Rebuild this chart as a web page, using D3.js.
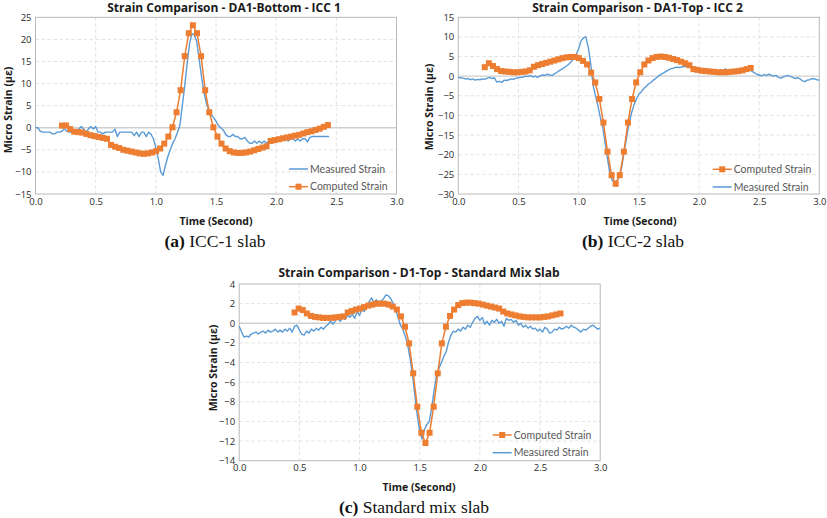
<!DOCTYPE html>
<html>
<head>
<meta charset="utf-8">
<script src="https://cdn.jsdelivr.net/npm/d3@7"></script>
<style>
  body { margin: 0; background: #fff; }
  svg { display: block; }
  .tick-label { font-family: "Open Sans", Lato, sans-serif; font-size: 9.5px; fill: #2a2a2a; }
  .chart-title { font-family: "Open Sans", Lato, sans-serif; font-size: 12px; font-weight: bold; fill: #1a1a1a; }
  .axis-title { font-family: "Open Sans", Lato, sans-serif; font-size: 10.5px; font-weight: bold; fill: #1a1a1a; }
  .legend-text { font-family: Lato, "Open Sans", sans-serif; font-size: 10.5px; fill: #595959; }
  .caption { font-family: "Liberation Serif", "DejaVu Serif", serif; font-size: 17.5px; fill: #111; }
</style>
</head>
<body>
<div id="chart"></div>
<script>
const WIDTH = 827;
const HEIGHT = 518;

const BLUE = '#5b9bd5';
const ORANGE = '#ed7d31';

// measured signals are sampled every 0.02 s from t = 0
const MEASURED_DT = 0.02;
// computed response is sampled every 0.034 s from a panel specific start
const COMPUTED_DT = 0.034;

const timeTicks = [0, 0.5, 1.0, 1.5, 2.0, 2.5, 3.0];

// ---- (a) ICC-1 slab, DA1-Bottom ----
const icc1Ticks = [-15, -10, -5, 0, 5, 10, 15, 20, 25];
const icc1ComputedStart = 0.22;
const icc1Measured = [
  0, 0, -0.8, -1, -1, -1, -1, -1.4, -1.4, -1,
  -1, -0.8, -0.2, -0.8, -1, -1, -1, -1, -0.3, 0.3,
  -0.3, -1, -0.3, 0.3, -0.3, 0.3, -1, -1, -1.4, -1,
  -1, -1, -1, -0.3, -2, -1, -1, -1, -1, -1,
  -1, -1.8, -1, -2, -1, -1, -2, -1, -1.5, -2.5,
  -4.5, -7, -10, -10.8, -8.5, -6.5, -5, -3.5, -2.5, -1,
  0.5, 5, 9.5, 14.5, 19, 21.3, 21, 19.5, 15.5, 11.5,
  8, 5.5, 4, 3, 2.3, 1.5, 0.5, 0, -0.5, -1.5,
  -2, -2, -1.5, -2, -2, -2.5, -2.5, -2.2, -3, -3.5,
  -3.5, -3, -3.5, -3, -3.5, -3, -3.5, -3, -2.5, -2.8,
  -2.5, -2.5, -3, -2.5, -2.5, -3, -2.5, -2.5, -3, -2.5,
  -3, -2.5, -2.5, -3.2, -2.2, -2, -2, -2, -2, -2,
  -2, -2, -2
];
const icc1Computed = [
  0.5, 0.5, -0.3, -0.9, -1.0, -1.1, -1.4, -1.7, -1.9, -2.1,
  -2.3, -2.5, -3.9, -4.3, -4.6, -5.0, -5.2, -5.4, -5.6, -5.8,
  -5.9, -5.8, -5.6, -5.3, -4.7, -3.6, -2.0, 0.1, 3.5, 8.5,
  16.2, 21.4, 23.2, 21.4, 16.2, 8.5, 3.5, 0.1, -2.0, -3.6,
  -4.7, -5.3, -5.6, -5.7, -5.7, -5.6, -5.4, -5.1, -4.8, -4.5,
  -4.2, -3.0, -2.8, -2.6, -2.4, -2.2, -2.0, -1.8, -1.6, -1.3,
  -1.0, -0.8, -0.5, -0.2, 0.2, 0.6
];

// ---- (b) ICC-2 slab, DA1-Top ----
const icc2Ticks = [-30, -25, -20, -15, -10, -5, 0, 5, 10, 15];
const icc2ComputedStart = 0.22;
const icc2Measured = [
  -0.3, -0.4, -0.5, -0.7, -0.6, -0.9, -0.7, -1.0, -0.8, -0.9,
  -0.7, -0.8, -0.5, -0.3, -0.6, -0.4, -1.5, -1.3, -1.6, -1.0,
  -1.1, -0.9, -0.7, -0.8, -0.5, -0.4, -0.3, -0.2, 0.0, -0.1,
  0.2, -0.2, 0.0, -0.3, 0.1, 0.3, 0.2, 0.5, 0.3, 0.2,
  0.6, 1.0, 1.4, 1.8, 2.2, 2.6, 3.1, 3.8, 4.5, 5.5,
  7.0, 9.0, 9.8, 10.0, 7.4, 3.3, -2.3, -5.0, -7.5, -10.5,
  -12.9, -17.0, -21.0, -24.8, -26.6, -27.0, -26.6, -25.5, -22.8, -19.0,
  -15.3, -11.8, -9.3, -7.3, -5.8, -4.6, -4.0, -3.2, -2.6, -2.0,
  -1.6, -1.0, -0.6, 0.0, 0.4, 0.7, 1.1, 1.5, 1.8, 2.0,
  2.2, 2.3, 2.2, 2.4, 2.5, 2.4, 2.6, 2.5, 2.3, 2.2,
  2.0, 1.8, 1.9, 1.6, 1.5, 1.7, 1.3, 1.5, 1.2, 1.6,
  1.3, 1.9, 1.4, 1.2, 1.6, 1.3, 1.5, 1.1, 1.7, 1.4,
  1.6, 1.9, 1.2, 0.9, 0.5, 0.3, 0.1, 0.4, 0.2, 0.5,
  0.3, 0.0, 0.2, -0.3, -0.5, -0.2, 0.0, 0.2, -0.1, -0.3,
  -0.6, -0.4, -0.7, -1.2, -1.4, -1.0, -0.9, -0.6, -0.7, -0.9,
  -1.0
];
const icc2Computed = [
  2.3, 3.3, 2.6, 1.8, 1.3, 1.2, 1.1, 1.0, 1.0, 1.1,
  1.2, 1.5, 2.4, 2.8, 3.1, 3.4, 3.7, 4.0, 4.3, 4.6,
  4.8, 4.9, 4.9, 4.6, 3.9, 3.0, 0.9, -1.6, -5.8, -11.8,
  -19.2, -25.2, -27.4, -25.2, -19.2, -11.8, -5.8, -1.6, 1.0, 3.0,
  4.0, 4.6, 4.9, 5.0, 4.9, 4.7, 4.4, 4.1, 3.7, 3.3,
  2.8, 1.8, 1.6, 1.4, 1.3, 1.2, 1.1, 1.0, 1.0, 1.0,
  1.1, 1.2, 1.3, 1.5, 1.8, 2.1
];

// ---- (c) Standard mix slab, D1-Top ----
const stdTicks = [-14, -12, -10, -8, -6, -4, -2, 0, 2, 4];
const stdComputedStart = 0.46;
const stdMeasured = [
  -0.3, -0.9, -1.4, -1.3, -1.4, -1.1, -1.0, -0.9, -1.1, -0.9,
  -0.8, -1.0, -0.7, -0.9, -0.8, -0.6, -0.9, -0.7, -0.9, -0.6,
  -0.8, -0.5, -0.9, -0.3, -0.2, -0.7, -1.1, -1.2, -0.8, -1.0,
  -0.6, -0.8, -0.5, -0.7, -0.4, -0.6, -0.3, -0.1, 0.2, -0.1,
  0.3, 0.5, 0.2, 0.6, 0.4, 0.8, 0.6, 0.9, 0.5, 1.2,
  0.8, 1.5, 1.2, 1.9, 2.2, 2.6, 2.1, 2.4, 1.9, 2.3,
  2.5, 2.9, 2.8, 2.5, 2.0, 1.4, 0.6, -0.2, -0.6, -1.3,
  -2.2, -3.6, -5.2, -7.4, -9.4, -11.0, -11.8, -10.8, -10.3, -10.0,
  -8.6, -6.8, -5.3, -4.6, -4.0, -3.4, -2.9, -1.9, -1.2, -0.8,
  -0.9, -0.6, -0.8, -0.4, -0.6, -0.2, -0.4, 0.1, 0.5, 0.7,
  0.3, 0.6, -0.1, 0.2, -0.2, 0.3, 0.1, 0.4, 0.0, 0.2,
  -0.3, 0.5, 0.3, 0.4, 0.1, 0.3, -0.2, 0.0, -0.4, -0.2,
  -0.5, -0.3, -0.6, -0.5, -0.8, -0.6, -0.9, -0.4, -0.6, -1.0,
  -0.9, -0.6, -0.7, -0.4, -0.6, -0.5, -0.3, -0.5, -0.2, -0.4,
  -0.5, -0.7, -0.9, -0.6, -0.7, -0.5, -0.3, -0.2, -0.4, -0.6,
  -0.5
];
const stdComputed = [
  1.1, 1.5, 1.35, 1.0, 0.75, 0.65, 0.6, 0.55, 0.55, 0.55,
  0.6, 0.65, 0.7, 1.1, 1.25, 1.4, 1.5, 1.65, 1.8, 1.9,
  2.0, 2.0, 2.0, 1.9, 1.7, 1.4, 0.7, -0.35, -2.05, -5.1,
  -8.5, -11.15, -12.2, -11.15, -8.5, -5.1, -2.05, -0.35, 0.75, 1.4,
  1.85, 2.05, 2.1, 2.1, 2.05, 2.0, 1.9, 1.8, 1.7, 1.6,
  1.5, 1.2, 1.0, 0.9, 0.8, 0.7, 0.65, 0.6, 0.6, 0.6,
  0.6, 0.65, 0.7, 0.8, 0.9, 1.0
];

const panels = [
  {
    title: 'Strain Comparison - DA1-Bottom - ICC 1',
    caption: ['(a)', ' ICC-1 slab'],
    left: 35.5, right: 396.5, top: 17.3, bottom: 194,
    yTicks: icc1Ticks,
    measured: icc1Measured,
    computed: icc1Computed,
    computedStart: icc1ComputedStart,
    titleX: 224, titleY: 12,
    yLabelX: 8, yLabelY: 110,
    xLabelX: 216, xLabelY: 225,
    captionX: 215, captionY: 247,
    legendX: 289, legendY: 169,
    legendOrder: ['measured', 'computed'],
  },
  {
    title: 'Strain Comparison - DA1-Top - ICC 2',
    caption: ['(b)', ' ICC-2 slab'],
    left: 458.3, right: 819.3, top: 17.3, bottom: 194,
    yTicks: icc2Ticks,
    measured: icc2Measured,
    computed: icc2Computed,
    computedStart: icc2ComputedStart,
    titleX: 637.5, titleY: 12,
    yLabelX: 429, yLabelY: 107,
    xLabelX: 640, xLabelY: 225,
    captionX: 633, captionY: 247,
    legendX: 712.7, legendY: 169.3,
    legendOrder: ['computed', 'measured'],
  },
  {
    title: 'Strain Comparison - D1-Top - Standard Mix Slab',
    caption: ['(c)', ' Standard mix slab'],
    left: 239.2, right: 600.2, top: 284, bottom: 460.7,
    yTicks: stdTicks,
    measured: stdMeasured,
    computed: stdComputed,
    computedStart: stdComputedStart,
    titleX: 419, titleY: 277,
    yLabelX: 213, yLabelY: 368,
    xLabelX: 419, xLabelY: 491,
    captionX: 414, captionY: 513,
    legendX: 492.7, legendY: 435,
    legendOrder: ['computed', 'measured'],
  },
];

const svg = d3
  .select('#chart')
  .append('svg')
  .attr('width', WIDTH)
  .attr('height', HEIGHT)
  .attr('viewBox', `0 0 ${WIDTH} ${HEIGHT}`);

panels.forEach(drawPanel);

function drawPanel(p) {
  const g = svg.append('g');
  const yMin = d3.min(p.yTicks);
  const yMax = d3.max(p.yTicks);

  const x = d3.scaleLinear().domain([0, 3]).range([p.left, p.right]);
  const y = d3.scaleLinear().domain([yMin, yMax]).range([p.bottom, p.top]);

  // horizontal grid, dashed except the zero line
  g.append('g')
    .selectAll('line')
    .data(p.yTicks.filter(d => d !== yMin && d !== yMax))
    .join('line')
    .attr('x1', p.left)
    .attr('x2', p.right)
    .attr('y1', d => y(d))
    .attr('y2', d => y(d))
    .attr('stroke', d => (d === 0 ? '#cfcfcf' : '#dadada'))
    .attr('stroke-width', d => (d === 0 ? 1.3 : 0.8))
    .attr('stroke-dasharray', d => (d === 0 ? null : '3.5,2.5'));

  // vertical grid
  g.append('g')
    .selectAll('line')
    .data(timeTicks.filter(d => d > 0 && d < 3))
    .join('line')
    .attr('x1', d => x(d))
    .attr('x2', d => x(d))
    .attr('y1', p.top)
    .attr('y2', p.bottom)
    .attr('stroke', '#dadada')
    .attr('stroke-width', 0.8)
    .attr('stroke-dasharray', '3.5,2.5');

  // plot frame
  g.append('rect')
    .attr('x', p.left)
    .attr('y', p.top)
    .attr('width', p.right - p.left)
    .attr('height', p.bottom - p.top)
    .attr('fill', 'none')
    .attr('stroke', '#b8b8b8')
    .attr('stroke-width', 1);

  // axes: labels only, lines come from the frame
  const yAxis = g.append('g')
    .attr('transform', `translate(${p.left},0)`)
    .call(d3.axisLeft(y).tickValues(p.yTicks).tickSize(0).tickPadding(4).tickFormat(d3.format('d')));
  yAxis.select('.domain').remove();
  yAxis.selectAll('text').attr('class', 'tick-label').attr('font-family', null).attr('font-size', null);

  const xAxis = g.append('g')
    .attr('transform', `translate(0,${p.bottom})`)
    .call(d3.axisBottom(x).tickValues(timeTicks).tickSize(0).tickPadding(4).tickFormat(d3.format('.1f')));
  xAxis.select('.domain').remove();
  xAxis.selectAll('text').attr('class', 'tick-label').attr('font-family', null).attr('font-size', null);

  // series
  const measuredLine = d3.line()
    .x((d, i) => x(i * MEASURED_DT))
    .y(d => y(d));
  const computedLine = d3.line()
    .x((d, i) => x(p.computedStart + i * COMPUTED_DT))
    .y(d => y(d));

  g.append('path')
    .datum(p.measured)
    .attr('d', measuredLine)
    .attr('fill', 'none')
    .attr('stroke', BLUE)
    .attr('stroke-width', 1.4)
    .attr('stroke-linejoin', 'round');

  g.append('path')
    .datum(p.computed)
    .attr('d', computedLine)
    .attr('fill', 'none')
    .attr('stroke', ORANGE)
    .attr('stroke-width', 1.5);

  const ms = 6;
  g.append('g')
    .selectAll('rect')
    .data(p.computed)
    .join('rect')
    .attr('x', (d, i) => x(p.computedStart + i * COMPUTED_DT) - ms / 2)
    .attr('y', d => y(d) - ms / 2)
    .attr('width', ms)
    .attr('height', ms)
    .attr('fill', ORANGE);

  // titles
  g.append('text')
    .attr('class', 'chart-title')
    .attr('x', p.titleX)
    .attr('y', p.titleY)
    .attr('text-anchor', 'middle')
    .text(p.title);

  g.append('text')
    .attr('class', 'axis-title')
    .attr('transform', `translate(${p.yLabelX},${p.yLabelY}) rotate(-90)`)
    .attr('text-anchor', 'middle')
    .attr('dy', '0.35em')
    .text('Micro Strain (με)');

  g.append('text')
    .attr('class', 'axis-title')
    .attr('x', p.xLabelX)
    .attr('y', p.xLabelY)
    .attr('text-anchor', 'middle')
    .text('Time (Second)');

  const cap = g.append('text')
    .attr('class', 'caption')
    .attr('x', p.captionX)
    .attr('y', p.captionY)
    .attr('text-anchor', 'middle');
  cap.append('tspan').attr('font-weight', 'bold').text(p.caption[0]);
  cap.append('tspan').text(p.caption[1]);

  // legend
  const legendRow = 17.7;
  p.legendOrder.forEach((key, i) => {
    const ly = p.legendY + i * legendRow;
    const color = key === 'measured' ? BLUE : ORANGE;
    g.append('line')
      .attr('x1', p.legendX)
      .attr('x2', p.legendX + 19)
      .attr('y1', ly)
      .attr('y2', ly)
      .attr('stroke', color)
      .attr('stroke-width', 1.5);
    if (key === 'computed') {
      g.append('rect')
        .attr('x', p.legendX + 9.5 - ms / 2)
        .attr('y', ly - ms / 2)
        .attr('width', ms)
        .attr('height', ms)
        .attr('fill', ORANGE);
    }
    g.append('text')
      .attr('class', 'legend-text')
      .attr('x', p.legendX + 21)
      .attr('y', ly)
      .attr('dy', '0.35em')
      .text(key === 'measured' ? 'Measured Strain' : 'Computed Strain');
  });
}
</script>
</body>
</html>
